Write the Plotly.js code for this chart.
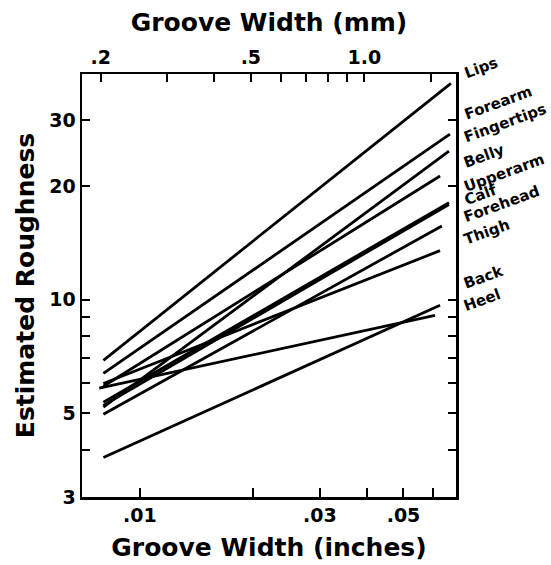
<!DOCTYPE html>
<html>
<head>
<meta charset="utf-8">
<script src="https://cdn.plot.ly/plotly-3.0.1.min.js"></script>
<style>
  html, body { margin: 0; padding: 0; background: #fff; }
  #chart { width: 551px; height: 565px; }
</style>
</head>
<body>
<div id="chart"></div>
<script>
// Body sites (order of labels at right, top to bottom)
const sites = ['Lips', 'Forearm', 'Fingertips', 'Belly', 'Upperarm', 'Calf', 'Forehead', 'Thigh', 'Back', 'Heel'];
// Groove width (inches) at the start and end of each fitted line
const widthStart = [0.0080, 0.0080, 0.0080, 0.0080, 0.0080, 0.0080, 0.0080, 0.0080, 0.0080, 0.0078];
const widthEnd   = [0.0668, 0.0664, 0.0660, 0.0625, 0.0660, 0.0660, 0.0632, 0.0625, 0.0625, 0.0606];
// Estimated roughness at the start and end of each line
const roughStart = [6.91, 6.38, 5.19, 5.90, 5.35, 5.25, 4.97, 6.00, 3.82, 5.83];
const roughEnd   = [37.5, 27.5, 24.8, 21.3, 18.1, 17.9, 15.7, 13.5, 9.67, 9.10];

// Axis ticks
const inchTicks = [0.01, 0.02, 0.03, 0.04, 0.05, 0.06];
const inchText  = ['.01', '', '.03', '', '.05', ''];
const mmTicks = [0.2, 0.3, 0.4, 0.5, 0.6, 0.7, 0.8, 0.9, 1.0, 1.5];
const mmText  = ['.2', '', '', '.5', '', '', '', '', '1.0', ''];
const roughTicks = [3, 4, 5, 6, 7, 8, 9, 10, 20, 30];
const roughText  = ['3', '', '5', '', '', '', '', '10', '20', '30'];

// Label positions (pixel centre, converted to paper coordinates)
const labelPxY = [68, 103, 123, 156, 173, 195, 204, 232, 277, 300];

const MM_PER_INCH = 25.4;
const xMinIn = 0.00702, xMaxIn = 0.0689;
const yMin = 3, yMax = 39.7;

const W = 551, H = 565;
const m = { l: 82, r: 95, t: 74, b: 68 };
const plotW = W - m.l - m.r, plotH = H - m.t - m.b;

const FONT = 'DejaVu Sans, sans-serif';
const TITLE_FONT = { family: FONT, size: 25, color: '#000', weight: 'bold' };
const TICK_FONT = { family: FONT, size: 19, color: '#000', weight: 'bold' };

const traces = sites.map((s, i) => ({
  type: 'scatter',
  mode: 'lines',
  name: s,
  x: [widthStart[i], widthEnd[i]],
  y: [roughStart[i], roughEnd[i]],
  line: { color: '#000', width: 2.8 },
  hoverinfo: 'name',
  showlegend: false
}));

// invisible trace to bind the top (mm) axis
traces.push({
  type: 'scatter', mode: 'markers',
  x: [0.5], y: [10], xaxis: 'x2', yaxis: 'y',
  marker: { opacity: 0 }, hoverinfo: 'skip', showlegend: false
});

const annotations = sites.map((s, i) => ({
  text: s,
  xref: 'paper', yref: 'paper',
  x: (459 - m.l) / plotW,
  y: (H - m.b - labelPxY[i]) / plotH,
  xanchor: 'left', yanchor: 'middle',
  textangle: -20,
  showarrow: false,
  font: { family: FONT, size: 15, color: '#000', weight: 'bold' }
}));

const layout = {
  width: W, height: H,
  margin: m,
  paper_bgcolor: '#fff', plot_bgcolor: '#fff',
  showlegend: false,
  font: { family: FONT, color: '#000' },
  xaxis: {
    type: 'log',
    range: [Math.log10(xMinIn), Math.log10(xMaxIn)],
    tickmode: 'array', tickvals: inchTicks, ticktext: inchText,
    ticks: 'inside', ticklen: 9, tickwidth: 2, tickcolor: '#000',
    showline: true, linecolor: '#000', linewidth: 2.5,
    showgrid: false, zeroline: false,
    tickfont: TICK_FONT,
    title: { text: 'Groove Width (inches)', font: TITLE_FONT, standoff: 13 },
    automargin: false
  },
  xaxis2: {
    type: 'log',
    overlaying: 'x', side: 'top',
    range: [Math.log10(xMinIn * MM_PER_INCH), Math.log10(xMaxIn * MM_PER_INCH)],
    tickmode: 'array', tickvals: mmTicks, ticktext: mmText,
    ticks: 'inside', ticklen: 8, tickwidth: 2, tickcolor: '#000',
    showline: true, linecolor: '#000', linewidth: 2.5,
    showgrid: false, zeroline: false,
    tickfont: TICK_FONT,
    title: { text: 'Groove Width (mm)', font: TITLE_FONT, standoff: 7 },
    automargin: false
  },
  yaxis: {
    type: 'log',
    range: [Math.log10(yMin), Math.log10(yMax)],
    tickmode: 'array', tickvals: roughTicks, ticktext: roughText,
    ticks: 'inside', ticklen: 8, tickwidth: 2, tickcolor: '#000',
    showline: true, linecolor: '#000', linewidth: 2.5, mirror: 'ticks',
    showgrid: false, zeroline: false,
    tickfont: TICK_FONT,
    title: { text: 'Estimated Roughness', font: TITLE_FONT, standoff: 8 },
    automargin: false
  },
  annotations: annotations
};

Plotly.newPlot('chart', traces, layout, { staticPlot: true, displayModeBar: false });
</script>
</body>
</html>
